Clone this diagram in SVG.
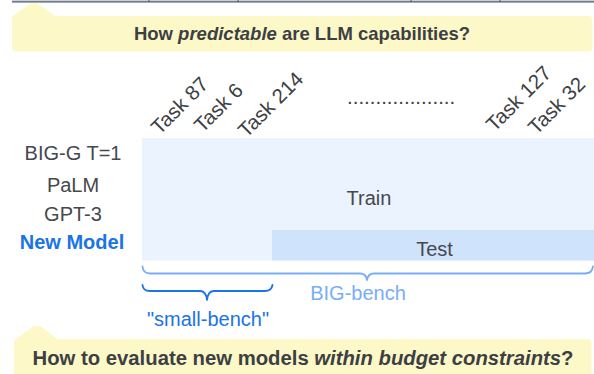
<svg xmlns="http://www.w3.org/2000/svg" width="594" height="374" viewBox="0 0 594 374">
<style>
text{font-family:"Liberation Sans",Arial,sans-serif;}
.q{font-weight:bold;fill:#3c4043;}
.call{fill:#fcf8c8;stroke:#fcf8c8;stroke-linejoin:round;stroke-width:2;}
.lbl{font-size:20px;fill:#45484d;text-anchor:middle;}
.task{font-size:20.5px;fill:#3c4043;}
.brace{fill:none;stroke-width:1.8;stroke-linecap:round;stroke-linejoin:round;}
.sep{stroke:#4b5563;stroke-width:1;}
</style>
<g id="table-edge">
<rect x="12" y="0" width="582" height="1.2" fill="#c9d1dd"/>
<line x1="12" y1="1.8" x2="594" y2="1.8" stroke="#4b5563" stroke-width="1.3"/>
<line class="sep" x1="149" y1="0" x2="149" y2="2"/>
<line class="sep" x1="238" y1="0" x2="238" y2="2"/>
<line class="sep" x1="411" y1="0" x2="411" y2="2"/>
<line class="sep" x1="500" y1="0" x2="500" y2="2"/>
</g>
<g id="question-top">
<path class="call" d="M13 17 L31 4.5 L37 4.5 L55 17 Z"/>
<rect x="12" y="16" width="580.5" height="35.5" rx="4" fill="#fcf8c8"/>
<text class="q" x="302" y="40" font-size="18.5" text-anchor="middle">How <tspan font-style="italic">predictable</tspan> are LLM capabilities?</text>
</g>
<g id="task-labels">
<text class="task" transform="translate(159.5,135.5) rotate(-45)">Task 87</text>
<text class="task" transform="translate(202.5,133.5) rotate(-45)">Task 6</text>
<text class="task" transform="translate(246.5,138.5) rotate(-45)">Task 214</text>
<text class="task" x="347" y="104" font-size="20">...................</text>
<text class="task" transform="translate(494.5,132.5) rotate(-45)">Task 127</text>
<text class="task" transform="translate(536.5,135.5) rotate(-45)">Task 32</text>
</g>
<g id="model-labels">
<text class="lbl" x="73" y="160">BIG-G T=1</text>
<text class="lbl" x="73" y="191.5">PaLM</text>
<text class="lbl" x="73" y="221">GPT-3</text>
<text class="lbl" x="72" y="248.5" style="font-weight:bold;fill:#1a73e8">New Model</text>
</g>
<g id="train">
<rect x="142" y="138" width="452" height="122.5" fill="#ebf3fe"/>
<text class="lbl" x="369" y="205">Train</text>
</g>
<g id="test">
<rect x="272" y="230" width="322" height="30.5" fill="#d0e3fc"/>
<text class="lbl" x="434.5" y="256">Test</text>
</g>
<g id="connectors">
<path class="brace" stroke="#78aef6" d="M142.5 266.5 Q143 273.5 150 273.5 L360 273.5 Q366 273.5 367 280 Q368 273.5 374 273.5 L585 273.5 Q592 273.5 593 266.5"/>
<path class="brace" stroke="#1a73e8" d="M142.5 285 Q143 291 150 291 L200 291 Q206 291 207 300 Q208 291 214 291 L265 291 Q271.5 291 272.5 285"/>
</g>
<g id="big-bench">
<text x="358" y="299.5" font-size="20" fill="#78aef6" text-anchor="middle">BIG-bench</text>
</g>
<g id="small-bench">
<text x="208" y="325.5" font-size="20" fill="#1a73e8" text-anchor="middle">"small-bench"</text>
</g>
<g id="question-bottom">
<path class="call" d="M15 341 L34 327 L40 327 L58 341 Z"/>
<rect x="14" y="339" width="577.5" height="45" rx="4" fill="#fcf8c8"/>
<text class="q" x="303" y="364.5" font-size="20.3" text-anchor="middle">How to evaluate new models <tspan font-style="italic">within budget constraints</tspan>?</text>
</g>
</svg>
